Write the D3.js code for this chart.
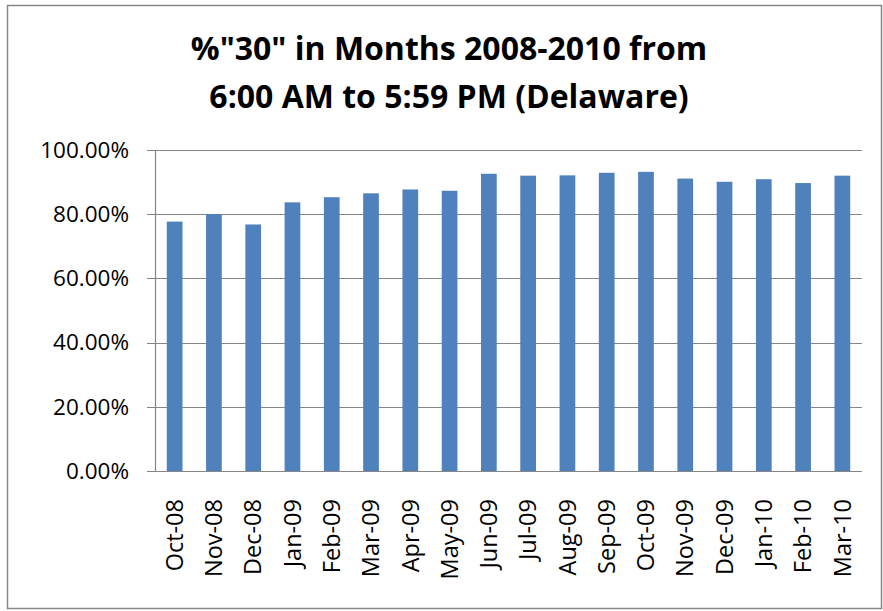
<!DOCTYPE html>
<html>
<head>
<meta charset="utf-8">
<script src="https://cdnjs.cloudflare.com/ajax/libs/d3/7.8.5/d3.min.js"></script>
<style>
  body { margin: 0; background: #fff; }
  text { font-family: "Open Sans", sans-serif; fill: #000; }
</style>
</head>
<body>
<div id="chart"></div>
<script>
// data
let months = ["Oct-08", "Nov-08", "Dec-08", "Jan-09", "Feb-09", "Mar-09", "Apr-09", "May-09", "Jun-09",
  "Jul-09", "Aug-09", "Sep-09", "Oct-09", "Nov-09", "Dec-09", "Jan-10", "Feb-10", "Mar-10"];
let pct30 = [0.777, 0.800, 0.768, 0.837, 0.853, 0.865, 0.877, 0.873, 0.926,
  0.920, 0.921, 0.929, 0.932, 0.911, 0.901, 0.909, 0.897, 0.920];
let yTicks = [0, 0.2, 0.4, 0.6, 0.8, 1.0];
let titleLines = ["%\"30\" in Months 2008-2010 from", "6:00 AM to 5:59 PM (Delaware)"];

let width = 883;
let height = 611;
let plot = { left: 155, right: 862, top: 150, bottom: 471 };

let svg = d3.select("#chart")
  .append("svg")
  .attr("width", width)
  .attr("height", height);

// outer chart border
svg.append("rect")
  .attr("x", 7.5)
  .attr("y", 5.5)
  .attr("width", 874)
  .attr("height", 603)
  .attr("fill", "#fff")
  .attr("stroke", "#868686")
  .attr("stroke-width", 1.5);

// title
svg.append("g")
  .selectAll("text")
  .data(titleLines)
  .enter()
  .append("text")
  .attr("x", 449)
  .attr("y", function(d, i) { return 60 + i * 48; })
  .attr("text-anchor", "middle")
  .attr("font-size", 32)
  .attr("font-weight", "bold")
  .text(function(d) { return d; });

// scales
let xScale = d3.scaleBand()
  .domain(months)
  .range([plot.left, plot.right])
  .paddingInner(0.6)
  .paddingOuter(0.3);

let yScale = d3.scaleLinear()
  .domain([0, 1])
  .range([plot.bottom, plot.top]);

// gridlines
svg.append("g")
  .selectAll("line")
  .data(yTicks)
  .enter()
  .append("line")
  .attr("x1", plot.left - 8)
  .attr("x2", plot.right)
  .attr("y1", function(d) { return Math.round(yScale(d)) + 0.5; })
  .attr("y2", function(d) { return Math.round(yScale(d)) + 0.5; })
  .attr("stroke", "#868686")
  .attr("stroke-width", 1.2);

// y axis labels
let yAxis = d3.axisLeft(yScale)
  .tickValues(yTicks)
  .tickSize(0)
  .tickPadding(26)
  .tickFormat(d3.format(".2%"));

let yG = svg.append("g")
  .attr("transform", "translate(" + plot.left + ",0)")
  .call(yAxis);
yG.select(".domain").remove();
yG.selectAll("text")
  .attr("font-family", "Open Sans")
  .attr("font-size", 22.5)
  .attr("fill", "#000");

// bars
svg.append("g")
  .selectAll("rect")
  .data(months)
  .enter()
  .append("rect")
  .attr("x", function(d) { return xScale(d); })
  .attr("y", function(d, i) { return yScale(pct30[i]); })
  .attr("width", xScale.bandwidth())
  .attr("height", function(d, i) { return plot.bottom - yScale(pct30[i]); })
  .attr("fill", "#4f81bd");

// axis lines
svg.append("line")
  .attr("x1", plot.left + 0.5).attr("x2", plot.left + 0.5)
  .attr("y1", plot.top).attr("y2", plot.bottom)
  .attr("stroke", "#868686")
  .attr("stroke-width", 1.2);

// x axis labels, rotated
let xAxis = d3.axisBottom(xScale)
  .tickSize(0)
  .tickPadding(0);

let xG = svg.append("g")
  .attr("transform", "translate(0," + plot.bottom + ")")
  .call(xAxis);
xG.select(".domain").remove();
xG.selectAll("text")
  .attr("font-family", "Open Sans")
  .attr("font-size", 23.5)
  .attr("fill", "#000")
  .attr("transform", "translate(0,28) rotate(-90)")
  .attr("text-anchor", "end")
  .attr("dx", 0)
  .attr("dy", "0.35em")
  .attr("x", 0)
  .attr("y", 0);
</script>
</body>
</html>
